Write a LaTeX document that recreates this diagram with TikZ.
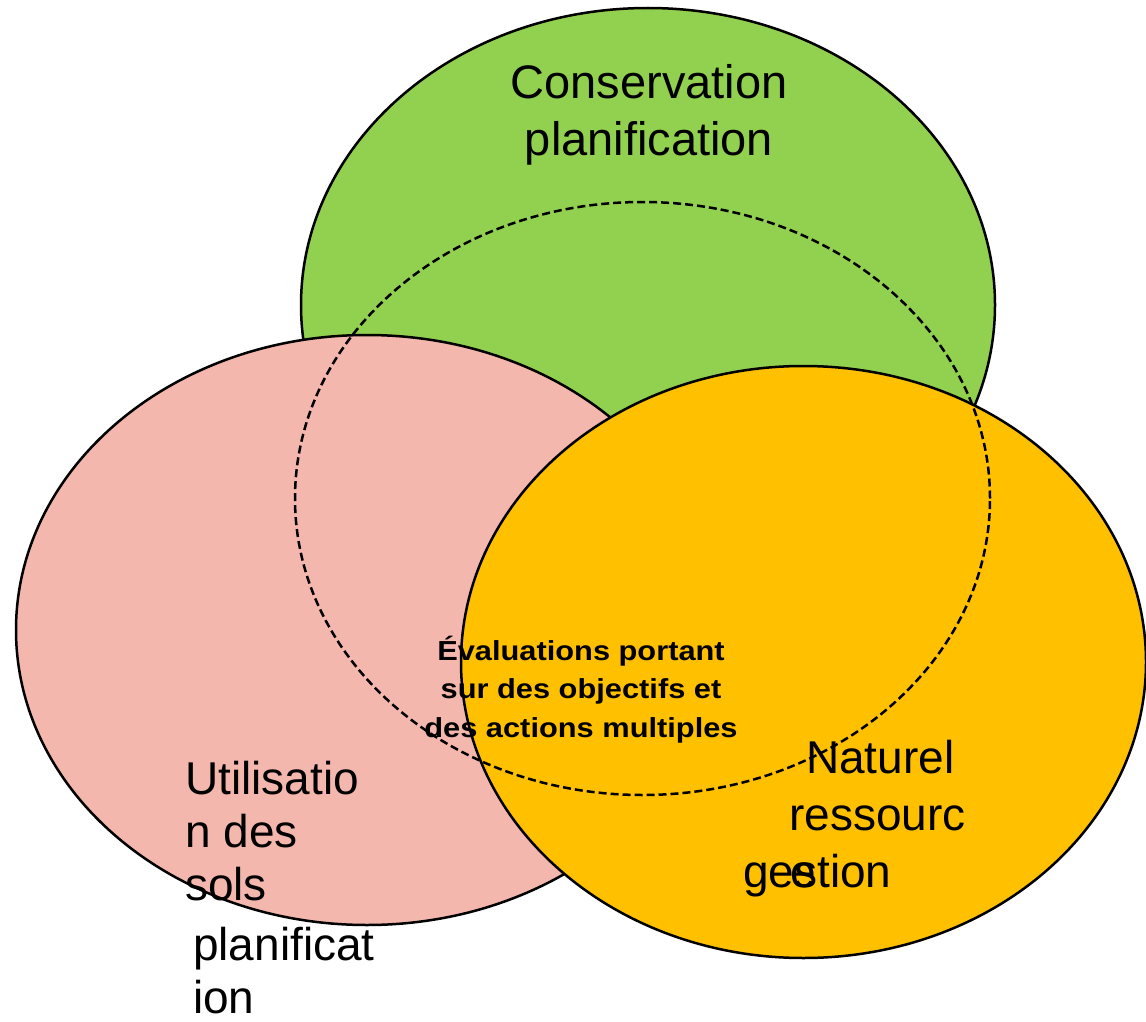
\documentclass[tikz,border=0pt]{standalone}
\usepackage{fontspec}
\setmainfont{Liberation Sans}
\usepackage{graphicx}
\definecolor{cgreen}{HTML}{92D050}
\definecolor{cpink}{HTML}{F4B7AD}
\definecolor{corange}{HTML}{FFC000}
\tikzset{
  setbox/.style={draw=black, line width=2.5pt},
  dashring/.style={draw=black, line width=2.5pt, dash pattern=on 8pt off 4pt},
  bigtxt/.style={inner sep=0pt, font=\fontsize{46}{55}\selectfont},
  midtxt/.style={inner sep=0pt, align=center, font=\bfseries\fontsize{27.5}{38.5}\selectfont},
}
\begin{document}
\begin{tikzpicture}[x=1pt,y=-1pt]
\useasboundingbox (0,0) rectangle (1146,1022);
% sets
\draw[setbox, fill=cgreen] (648,305) ellipse [x radius=347pt, y radius=297pt];
\draw[setbox, fill=cpink] (367,630) ellipse [x radius=351pt, y radius=295pt];
\draw[setbox, fill=corange] (803.5,662) ellipse [x radius=342.5pt, y radius=296pt];
\draw[dashring] (642.5,498.5) ellipse [x radius=347.5pt, y radius=296.5pt];
% labels (anchor base = baseline of the last line)
\node[bigtxt, font=\fontsize{47}{57}\selectfont, align=center, anchor=base] (cons) at (649,156) {Conservation\\planification};
\node[bigtxt, align=left, anchor=base west] (util1) at (185,900) {Utilisatio\\[-2pt]n des\\[-2pt]sols};
\node[bigtxt, align=left, anchor=base west] (util2) at (193,1013) {planificat\\[-2pt]ion};
\node[bigtxt, anchor=base west] (nat1) at (806,773) {Naturel};
\node[bigtxt, anchor=base west] (nat2) at (789,830) {ressourc};
\node[bigtxt, anchor=base west] (nat3) at (743,887) {gestion};
\node[bigtxt, anchor=base west] (nat4) at (790,887) {e};
\node[midtxt, anchor=base] (centre) at (581,737)
  {\scalebox{1.12}[1]{Évaluations portant}\\\scalebox{1.12}[1]{sur des objectifs et}\\\scalebox{1.12}[1]{des actions multiples}};
\end{tikzpicture}
\end{document}
